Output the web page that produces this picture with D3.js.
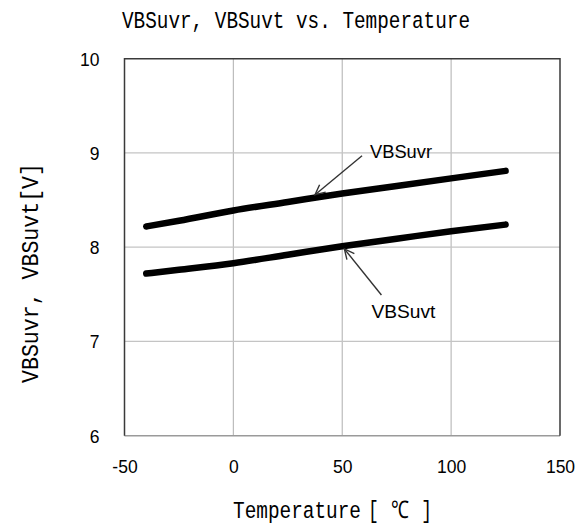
<!DOCTYPE html>
<html>
<head>
<meta charset="utf-8">
<script src="https://cdn.jsdelivr.net/npm/d3@7"></script>
<style>
  html, body { margin: 0; padding: 0; background: #fff; }
  svg { display: block; }
</style>
</head>
<body>
<svg id="chart" width="587" height="530"></svg>
<script>
// Temperature sweep (°C)
const temps = [-40, -25, 0, 25, 50, 75, 100, 125];
// Threshold voltages (V)
const vbsuvr = [8.22, 8.28, 8.39, 8.48, 8.57, 8.65, 8.73, 8.81];
const vbsuvt = [7.72, 7.76, 7.83, 7.92, 8.01, 8.09, 8.17, 8.24];

const xTicks = [-50, 0, 50, 100, 150];
const yTicks = [6, 7, 8, 9, 10];

const titleText = "VBSuvr, VBSuvt vs. Temperature";
const xLabelText = "Temperature";
const xUnitText = "[℃]";
const yLabelText = "VBSuvr, VBSuvt[V]";

// Callouts: label, series, temperature where the arrow points
const callouts = [
  { label: "VBSuvr", series: vbsuvr, t: 37.5 },
  { label: "VBSuvt", series: vbsuvt, t: 51 }
];

const svg = d3.select("#chart");
const plot = { left: 124.5, right: 560, top: 58.7, bottom: 435.7 };

const x = d3.scaleLinear().domain([-50, 150]).range([plot.left, plot.right]);
const y = d3.scaleLinear().domain([6, 10]).range([plot.bottom, plot.top]);

const mono = "'Liberation Mono', 'DejaVu Sans Mono', monospace";
const sans = "'Liberation Sans', Arial, sans-serif";

// grid
const grid = svg.append("g");
grid.selectAll("line.gx").data(xTicks.slice(1, -1)).join("line")
  .attr("x1", d => x(d)).attr("x2", d => x(d))
  .attr("y1", plot.top).attr("y2", plot.bottom)
  .attr("stroke", "#bcbcbc").attr("stroke-width", 1.2);
grid.selectAll("line.gy").data(yTicks.slice(1, -1)).join("line")
  .attr("y1", d => y(d)).attr("y2", d => y(d))
  .attr("x1", plot.left).attr("x2", plot.right)
  .attr("stroke", "#c4c4c4").attr("stroke-width", 1.2);

// frame
svg.append("line").attr("x1", plot.left).attr("x2", plot.right)
  .attr("y1", plot.bottom).attr("y2", plot.bottom)
  .attr("stroke", "#9a9a9a").attr("stroke-width", 1.5);
svg.append("path")
  .attr("d", `M${plot.left},${plot.bottom}V${plot.top}H${plot.right}V${plot.bottom}`)
  .attr("fill", "none").attr("stroke", "#3a3a3a").attr("stroke-width", 1.5);

// tick labels via axes (no domain / tick lines)
const fmt = d => String(d);
const xAxis = svg.append("g").attr("transform", `translate(0,${plot.bottom})`)
  .call(d3.axisBottom(x).tickValues(xTicks).tickFormat(fmt).tickSize(0).tickPadding(0));
xAxis.select(".domain").remove();
xAxis.selectAll("text").attr("dy", null).attr("y", 37)
  .attr("font-family", sans).attr("font-size", 17.5).attr("fill", "#000");

const yAxis = svg.append("g").attr("transform", `translate(${plot.left},0)`)
  .call(d3.axisLeft(y).tickValues(yTicks).tickFormat(fmt).tickSize(0).tickPadding(25));
yAxis.select(".domain").remove();
yAxis.selectAll("text").attr("dy", "0.36em")
  .attr("font-family", sans).attr("font-size", 17.5).attr("fill", "#000");

// data lines
const line = d3.line().x(d => x(d[0])).y(d => y(d[1])).curve(d3.curveMonotoneX);
[vbsuvr, vbsuvt].forEach(s => {
  svg.append("path")
    .attr("d", line(temps.map((t, i) => [t, s[i]])))
    .attr("fill", "none").attr("stroke", "#000")
    .attr("stroke-width", 6.5).attr("stroke-linecap", "round");
});

// callout arrows
function interp(series, t) {
  return d3.scaleLinear().domain(temps).range(series)(t);
}
function arrow(x1, y1, x2, y2) {
  const g = svg.append("g").attr("stroke", "#333").attr("stroke-width", 1.4).attr("fill", "none");
  g.append("line").attr("x1", x1).attr("y1", y1).attr("x2", x2).attr("y2", y2);
  const a = Math.atan2(y2 - y1, x2 - x1), L = 11, w = 0.45;
  g.append("path").attr("d",
    `M${x2 - L * Math.cos(a - w)},${y2 - L * Math.sin(a - w)}L${x2},${y2}L${x2 - L * Math.cos(a + w)},${y2 - L * Math.sin(a + w)}`);
}
// VBSuvr: label above-right, arrow down-left to the line's upper edge
{
  const c = callouts[0];
  const tx = x(c.t), ty = y(interp(c.series, c.t)) - 3;
  arrow(tx + 47, ty - 39, tx, ty);
  svg.append("text").attr("x", tx + 55).attr("y", ty - 37)
    .attr("font-family", sans).attr("font-size", 18).attr("fill", "#000")
    .attr("textLength", 62).attr("lengthAdjust", "spacingAndGlyphs")
    .text(c.label);
}
// VBSuvt: label below-right, arrow up-left to the line's lower edge
{
  const c = callouts[1];
  const tx = x(c.t), ty = y(interp(c.series, c.t)) + 3;
  arrow(tx + 37, ty + 46, tx, ty);
  svg.append("text").attr("x", tx + 27).attr("y", ty + 69)
    .attr("font-family", sans).attr("font-size", 18).attr("fill", "#000")
    .attr("textLength", 64).attr("lengthAdjust", "spacingAndGlyphs")
    .text(c.label);
}

// title
svg.append("text")
  .attr("transform", "translate(122,28) scale(1,1.35)")
  .attr("font-family", mono).attr("font-size", 18).attr("fill", "#000")
  .attr("textLength", 348).attr("lengthAdjust", "spacingAndGlyphs")
  .text(titleText);

// x axis title
const xl = svg.append("text")
  .attr("transform", "translate(233,518) scale(1,1.35)")
  .attr("font-family", mono).attr("font-size", 18).attr("fill", "#000");
xl.append("tspan").attr("x", 0).attr("textLength", 128).attr("lengthAdjust", "spacingAndGlyphs").text(xLabelText);
xl.append("tspan").attr("x", 135).attr("textLength", 64).attr("lengthAdjust", "spacing").text(xUnitText);

// y axis title
svg.append("text")
  .attr("transform", "translate(38,383) rotate(-90) scale(1,1.35)")
  .attr("font-family", mono).attr("font-size", 18).attr("fill", "#000")
  .attr("textLength", 220).attr("lengthAdjust", "spacingAndGlyphs")
  .text(yLabelText);
</script>
</body>
</html>
